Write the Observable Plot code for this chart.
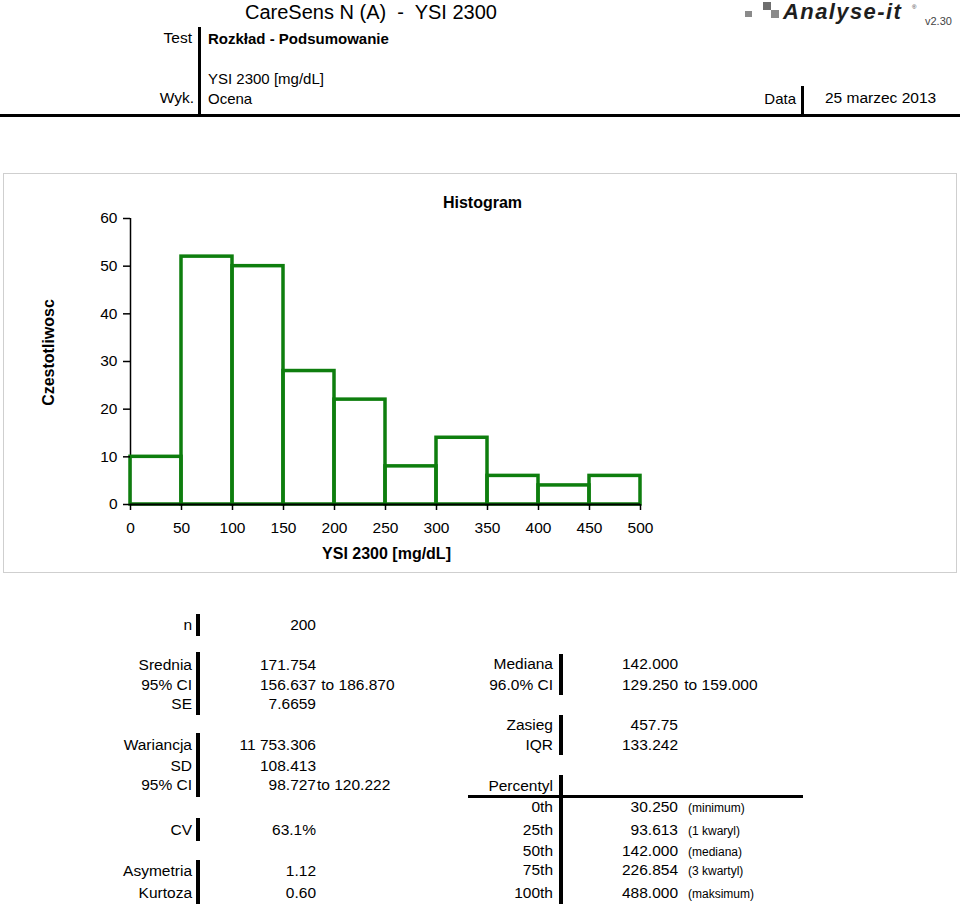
<!DOCTYPE html>
<html><head><meta charset="utf-8">
<script src="https://cdn.jsdelivr.net/npm/d3@7"></script>
<script src="https://cdn.jsdelivr.net/npm/@observablehq/plot@0.6"></script>
<style>
html,body{margin:0;padding:0;background:#fff}
body{width:960px;height:904px;position:relative;overflow:hidden;font-family:"Liberation Sans",Arial,sans-serif;color:#000}
.t{position:absolute;white-space:pre;line-height:1}
.blk{position:absolute;background:#000}
#box{position:absolute;left:3px;top:173px;width:954px;height:400px;box-sizing:border-box;border:1.5px solid #cfcfcf}
#chart{position:absolute;left:3px;top:173px}
</style></head><body>
<div id="box"></div>
<div id="chart"></div>
<script>
// ---- data ----
const binStart = [0, 50, 100, 150, 200, 250, 300, 350, 400, 450];
const binEnd   = [50, 100, 150, 200, 250, 300, 350, 400, 450, 500];
const counts   = [10, 52, 50, 28, 22, 8, 14, 6, 4, 6];
const xTicks = [0, 50, 100, 150, 200, 250, 300, 350, 400, 450, 500];
const yTicks = [0, 10, 20, 30, 40, 50, 60];
const chartTitle = "Histogram";
const xLabel = "YSI 2300 [mg/dL]";
const yLabel = "Czestotliwosc";

const headerTitle = "CareSens N (A)  -  YSI 2300";
const headerTestLabel = "Test", headerTest = "Rozkład - Podsumowanie";
const headerVar = "YSI 2300 [mg/dL]";
const headerWykLabel = "Wyk.", headerWyk = "Ocena";
const headerDataLabel = "Data", headerDate = "25 marzec 2013";
const logoText = "Analyse-it", logoVersion = "v2.30";

const leftLabels = ["n", "Srednia", "95% CI", "SE", "Wariancja", "SD", "95% CI", "CV", "Asymetria", "Kurtoza"];
const leftValues = ["200", "171.754", "156.637", "7.6659", "11 753.306", "108.413", "98.727", "63.1%", "1.12", "0.60"];
const leftSuffix = ["", "", " to 186.870", "", "", "", "to 120.222", "", "", ""];

const rightLabels = ["Mediana", "96.0% CI", "Zasieg", "IQR", "Percentyl", "0th", "25th", "50th", "75th", "100th"];
const rightValues = ["142.000", "129.250", "457.75", "133.242", "", "30.250", "93.613", "142.000", "226.854", "488.000"];
const rightSuffix = ["", " to 159.000", "", "", "", "", "", "", "", ""];
const rightNotes  = ["", "", "", "", "", "(minimum)", "(1 kwaryl)", "(mediana)", "(3 kwartyl)", "(maksimum)"];

// ---- chart ----
const font = "'Liberation Sans', Arial, sans-serif";
const bins = binStart.map((s, i) => ({x1: s, x2: binEnd[i], count: counts[i]}));
const chart = Plot.plot({
  width: 954, height: 400,
  marginLeft: 127, marginRight: 317, marginTop: 45, marginBottom: 69,
  style: {fontFamily: font, fontSize: "15.5px", color: "#000", background: "transparent", overflow: "visible"},
  x: {domain: [0, 500]},
  y: {domain: [0, 60]},
  marks: [
    Plot.ruleX([0], {y1: 0, y2: 60, stroke: "#000", strokeWidth: 1.5}),
    Plot.rect(bins, {x1: "x1", x2: "x2", y1: 0, y2: "count", fill: "none", stroke: "#0e7e0e", strokeWidth: 3.5}),
    Plot.ruleY([0], {x1: 0, x2: 500, stroke: "#000", strokeWidth: 2}),
    Plot.axisX({ticks: xTicks, tickSize: 6, tickPadding: 11, label: null, strokeWidth: 1.5}),
    Plot.axisY({ticks: yTicks, tickSize: 7, tickPadding: 6, label: null, strokeWidth: 1.5}),
    Plot.text([chartTitle], {frameAnchor: "top", dx: 97, dy: -16, lineAnchor: "middle", fontWeight: "bold", fontSize: 16}),
    Plot.text([xLabel], {frameAnchor: "bottom", dx: 1, dy: 49, lineAnchor: "middle", fontWeight: "bold", fontSize: 16}),
    Plot.text([yLabel], {frameAnchor: "left", dx: -82, dy: -9, rotate: -90, textAnchor: "middle", lineAnchor: "middle", fontWeight: "bold", fontSize: 16})
  ]
});
document.getElementById("chart").appendChild(chart);

// ---- text layout helpers ----
function txt(s, x, y, o = {}) {
  const d = document.createElement("div");
  d.className = "t";
  d.textContent = s;
  const size = o.size || 15.5;
  d.style.fontSize = size + "px";
  d.style.top = (y - 0.5 * size) + "px";
  if (o.align === "right") d.style.right = (960 - x) + "px"; else d.style.left = x + "px";
  if (o.weight) d.style.fontWeight = o.weight;
  if (o.italic) d.style.fontStyle = "italic";
  if (o.color) d.style.color = o.color;
  if (o.spacing) d.style.letterSpacing = o.spacing;
  document.body.appendChild(d);
}
function blk(x, y, w, h, color) {
  const d = document.createElement("div");
  d.className = "blk";
  Object.assign(d.style, {left: x + "px", top: y + "px", width: w + "px", height: h + "px"});
  if (color) d.style.background = color;
  document.body.appendChild(d);
}

// header
txt(headerTitle, 245, 12, {size: 20});
txt(headerTestLabel, 192, 38, {align: "right", size: 15.5});
txt(headerTest, 208, 38, {size: 15, weight: "bold"});
txt(headerVar, 208, 78, {size: 15});
txt(headerWykLabel, 194, 98, {align: "right", size: 15.5});
txt(headerWyk, 208, 98, {size: 15});
txt(headerDataLabel, 796, 98, {align: "right", size: 15});
txt(headerDate, 825, 98, {size: 15.5});
blk(198, 27, 3, 89);
blk(801, 86, 3, 30);
blk(0, 114, 960, 3);
// logo
blk(745, 11, 7, 6, "#8a8a8a");
blk(763, 2, 8, 8, "#6e6e6e");
blk(771, 10, 8, 8, "#8a8a8a");
txt(logoText, 783, 12, {size: 22, weight: "900", italic: true, color: "#1e1e1e", spacing: "1.4px"});
txt("®", 912, 7, {size: 6, color: "#333"});
txt(logoVersion, 925, 21, {size: 11, color: "#444"});

// left stats
const leftY = [625, 665, 685, 704, 745, 766, 785, 830, 871, 893];
leftLabels.forEach((s, i) => {
  txt(s, 192, leftY[i], {align: "right"});
  txt(leftValues[i], 316, leftY[i], {align: "right"});
  if (leftSuffix[i]) txt(leftSuffix[i], 317, leftY[i]);
});
blk(196, 614, 4, 22);
blk(196, 652, 4, 63);
blk(196, 733, 4, 64);
blk(196, 818, 4, 23);
blk(196, 860, 4, 44);

// right stats
const rightY = [664, 685, 725, 745, 786, 807, 830, 851, 870, 893];
rightLabels.forEach((s, i) => {
  txt(s, 553, rightY[i], {align: "right"});
  if (rightValues[i]) txt(rightValues[i], 678, rightY[i], {align: "right"});
  if (rightSuffix[i]) txt(rightSuffix[i], 680, rightY[i]);
  if (rightNotes[i]) txt(rightNotes[i], 688, rightY[i] + 1, {size: 12});
});
blk(559, 654, 4, 41);
blk(559, 715, 4, 40);
blk(559, 775, 4, 129);
blk(468, 795, 335, 3);
</script>
</body></html>
